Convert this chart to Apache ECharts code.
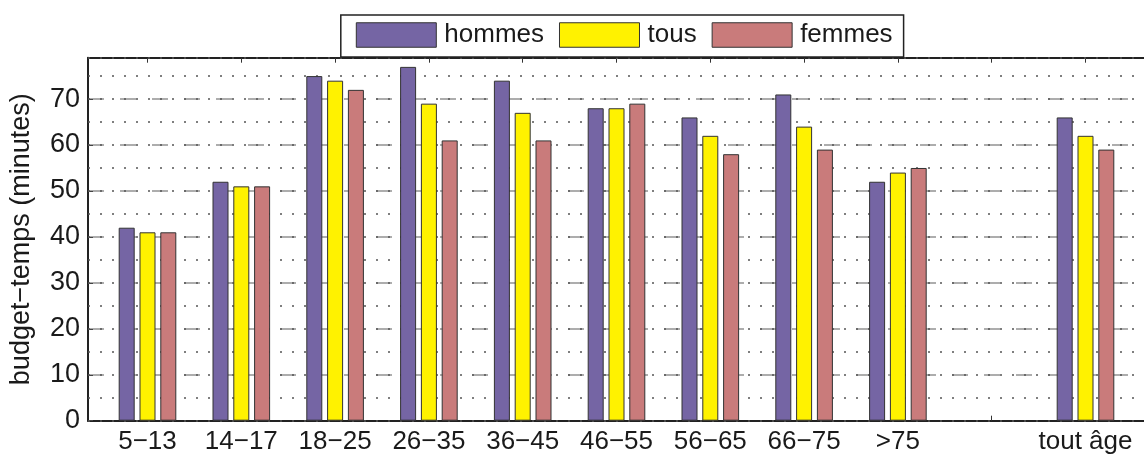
<!DOCTYPE html>
<html>
<head>
<meta charset="utf-8">
<script src="https://cdn.jsdelivr.net/npm/echarts@6/dist/echarts.min.js"></script>
<style>
  html, body { margin: 0; padding: 0; background: #fff; }
  #chart { width: 1144px; height: 455px; }
</style>
</head>
<body>
<div id="chart"></div>
<script>
// Age groups (one empty slot separates the overall group)
const categories = ['5\u221213', '14\u221217', '18\u221225', '26\u221235', '36\u221245', '46\u221255', '56\u221265', '66\u221275', '>75', '', 'tout \u00e2ge'];
// Daily time budget, minutes
const hommes = [42, 52, 75, 77, 74, 68, 66, 71, 52, null, 66];
const tous   = [41, 51, 74, 69, 67, 68, 62, 64, 54, null, 62];
const femmes = [41, 51, 72, 61, 61, 69, 58, 59, 55, null, 59];
const seriesNames = ['hommes', 'tous', 'femmes'];
const yMin = 0, yMax = 79, yMajor = 10, yMinor = 5;

const FONT = "'Liberation Sans', Arial, Helvetica, sans-serif";
const INK = '#1a1a1a';
const colors = ['#7565a4', '#fff200', '#c97b7b'];

// Frame grid (axes box + grid lines) and a slightly narrower grid holding the bars
const frame = { left: 87, top: 57.7, width: 1059, height: 363 };
const band = 93.8;
const firstCenter = 147.5;
const barsGrid = { left: firstCenter - band / 2, top: frame.top, width: band * categories.length, height: frame.height };

const chart = echarts.init(document.getElementById('chart'));

const hidden = { show: false };
const barSeries = [hommes, tous, femmes].map((vals, i) => ({
  name: seriesNames[i],
  type: 'bar',
  xAxisIndex: 2,
  yAxisIndex: 2,
  data: vals.map(v => (v === null ? '-' : v)),
  barWidth: 16,
  barGap: '30%',
  itemStyle: { color: colors[i], borderColor: '#333', borderWidth: 1 },
  emphasis: { disabled: true },
  animation: false
}));

chart.setOption({
  animation: false,
  textStyle: { fontFamily: FONT },
  legend: {
    data: seriesNames,
    left: 340.8,
    top: 15,
    orient: 'horizontal',
    itemWidth: 80,
    itemHeight: 24.5,
    itemGap: 15,
    icon: 'rect',
    padding: [7, 11, 9, 15],
    borderColor: '#222',
    borderWidth: 1.5,
    backgroundColor: '#fff',
    itemStyle: { borderColor: '#333', borderWidth: 1 },
    textStyle: { fontFamily: FONT, fontSize: 26, color: INK, lineHeight: 26, padding: [0, 0, 0, 3] },
    selectedMode: false
  },
  grid: [
    { left: frame.left, top: frame.top, width: frame.width, height: frame.height, containLabel: false },
    { left: barsGrid.left, top: barsGrid.top, width: barsGrid.width, height: barsGrid.height, containLabel: false }
  ],
  xAxis: [
    { // bottom frame edge
      type: 'value', gridIndex: 0, position: 'bottom', min: 0, max: 1,
      axisLine: { show: true, onZero: false, lineStyle: { color: '#222', width: 2 } },
      axisTick: hidden, axisLabel: hidden, splitLine: hidden
    },
    { // top frame edge
      type: 'value', gridIndex: 0, position: 'top', min: 0, max: 1,
      axisLine: { show: true, onZero: false, lineStyle: { color: '#222', width: 2 } },
      axisTick: hidden, axisLabel: hidden, splitLine: hidden
    },
    { // category labels and bottom ticks
      type: 'category', gridIndex: 1, position: 'bottom', data: categories,
      axisLine: hidden,
      axisTick: { show: true, inside: true, length: 5, alignWithLabel: true, lineStyle: { color: '#333', width: 1 } },
      axisLabel: { show: true, interval: 0, margin: 8, fontFamily: FONT, fontSize: 26, color: INK },
      splitLine: hidden
    },
    { // top ticks at group centres
      type: 'category', gridIndex: 1, position: 'top', data: categories,
      axisLine: hidden,
      axisTick: { show: true, inside: true, length: 5, alignWithLabel: true, lineStyle: { color: '#333', width: 1 } },
      axisLabel: hidden, splitLine: hidden
    }
  ],
  yAxis: [
    {
      type: 'value', gridIndex: 0, position: 'left', min: yMin, max: yMax, interval: yMajor, z: 0,
      name: 'budget\u2212temps (minutes)',
      nameLocation: 'middle',
      nameGap: 53,
      nameTextStyle: { fontFamily: FONT, fontSize: 27, color: INK },
      axisLine: { show: true, onZero: false, lineStyle: { color: '#222', width: 2 } },
      axisTick: { show: true, inside: true, length: 5, lineStyle: { color: '#444', width: 1 } },
      axisLabel: {
        show: true, margin: 8, fontFamily: FONT, fontSize: 27, color: INK,
        showMaxLabel: false,
        formatter: v => (v % yMajor === 0 ? String(v) : '')
      },
      splitLine: { show: true, lineStyle: { color: '#9a9a9a', width: 1.6, type: [16, 16] } }
    },
    {
      type: 'value', gridIndex: 0, position: 'right', min: yMin, max: yMax, interval: yMinor, z: 1,
      axisLine: hidden, axisTick: hidden, axisLabel: hidden,
      splitLine: { show: true, lineStyle: { color: '#555', width: 1.6, type: [2, 10] } }
    },
    {
      type: 'value', gridIndex: 1, min: yMin, max: yMax, show: false,
      axisLine: hidden, axisTick: hidden, axisLabel: hidden, splitLine: hidden
    }
  ],
  series: barSeries
});
</script>
</body>
</html>
